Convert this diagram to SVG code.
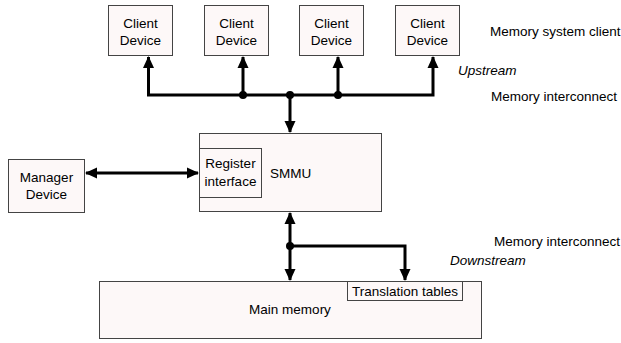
<svg xmlns="http://www.w3.org/2000/svg" width="621" height="343" viewBox="0 0 621 343">
<defs>
<style>
.box{fill:#fdf8f8;stroke:#444;stroke-width:1}
text{font-family:'Liberation Sans',Arimo,Arial,Helvetica,sans-serif;font-size:13.5px;fill:#000}
.c{text-anchor:middle}
.i{font-style:italic}
.w{fill:none;stroke:#000;stroke-width:3}
</style>
<marker id="ah" viewBox="0 0 12 11" refX="11" refY="5.5" markerWidth="4" markerHeight="3.67" orient="auto-start-reverse" markerUnits="strokeWidth">
<path d="M0,0 L12,5.5 L0,11 Z" fill="#000"/>
</marker>
</defs>
<rect width="621" height="343" fill="#fff"/>
<g id="connectors">
<polyline class="w" points="148.5,57 148.5,95 433,95 433,57" marker-start="url(#ah)" marker-end="url(#ah)"/>
<line class="w" x1="243" y1="95" x2="243" y2="57" marker-end="url(#ah)"/>
<line class="w" x1="338" y1="95" x2="338" y2="57" marker-end="url(#ah)"/>
<line class="w" x1="290" y1="95" x2="290" y2="132" marker-end="url(#ah)"/>
<circle cx="243" cy="95" r="4"/>
<circle cx="290" cy="95" r="4"/>
<circle cx="338" cy="95" r="4"/>
<line class="w" x1="86" y1="173" x2="198" y2="173" marker-start="url(#ah)" marker-end="url(#ah)"/>
<line class="w" x1="290" y1="213" x2="290" y2="280" marker-start="url(#ah)" marker-end="url(#ah)"/>
<polyline class="w" points="290,246 405,246 405,280" marker-end="url(#ah)"/>
<circle cx="290" cy="246" r="4"/>
</g>
<g id="client1"><rect class="box" x="108.5" y="5.5" width="64" height="50"/><text font-family="Liberation Sans" class="c" x="140.5" y="28">Client</text><text class="c" x="140.5" y="45">Device</text></g>
<g id="client2"><rect class="box" x="204.5" y="5.5" width="64" height="50"/><text class="c" x="236.5" y="28">Client</text><text class="c" x="236.5" y="45">Device</text></g>
<g id="client3"><rect class="box" x="299.5" y="5.5" width="64" height="50"/><text class="c" x="331.5" y="28">Client</text><text class="c" x="331.5" y="45">Device</text></g>
<g id="client4"><rect class="box" x="395.5" y="5.5" width="64" height="50"/><text class="c" x="427.5" y="28">Client</text><text class="c" x="427.5" y="45">Device</text></g>
<g id="manager"><rect class="box" x="8.5" y="159.5" width="76" height="53"/><text class="c" x="46.5" y="182">Manager</text><text class="c" x="46.5" y="199">Device</text></g>
<g id="smmu"><rect class="box" x="199.5" y="133.5" width="182" height="78"/><text x="270" y="178">SMMU</text>
<g id="register"><rect class="box" x="199.5" y="148.5" width="62" height="49"/><text class="c" x="230.5" y="168">Register</text><text class="c" x="230.5" y="186">interface</text></g></g>
<g id="mainmem"><rect class="box" x="99.5" y="281.5" width="382" height="57"/><text class="c" x="290" y="314">Main memory</text>
<g id="ttables"><rect class="box" x="347.5" y="281.5" width="115" height="19"/><text class="c" x="405" y="296">Translation tables</text></g></g>
<g id="labels">
<text x="490" y="36">Memory system client</text>
<text class="i" x="458" y="75">Upstream</text>
<text x="491" y="101">Memory interconnect</text>
<text x="494" y="246">Memory interconnect</text>
<text class="i" x="450" y="265">Downstream</text>
</g>
</svg>
